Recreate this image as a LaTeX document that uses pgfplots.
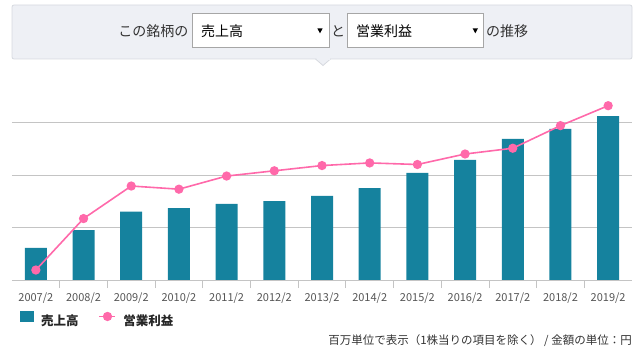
\documentclass[border=0pt]{standalone}
\usepackage{pgfplots}
\pgfplotsset{compat=1.18}
\usepackage{fontspec}
\setmainfont{Noto Sans CJK JP}
\definecolor{barc}{HTML}{15829E}
\definecolor{linec}{HTML}{FF69AA}
\definecolor{hdrfill}{HTML}{EEF0F5}
\definecolor{hdrdraw}{HTML}{D6D9DF}
\definecolor{txt}{HTML}{333333}
\definecolor{tickc}{HTML}{555555}
\definecolor{gridc}{HTML}{C4C4C4}
\begin{document}
\begin{tikzpicture}[x=1pt,y=1pt]
\useasboundingbox (0,0) rectangle (640,351);
% header box
\filldraw[fill=hdrfill, draw=hdrdraw, line width=0.8pt, rounded corners=2pt] (12,292) rectangle (632,346);
\fill[hdrfill] (315.5,292.5) -- (323,285.5) -- (330.5,292.5) -- cycle;
\draw[hdrdraw, line width=0.8pt] (315.5,292) -- (323,285.5) -- (330.5,292);
\fill[hdrfill] (316.5,291) rectangle (329.5,293);
% dropdowns
\filldraw[fill=white, draw=black!35, line width=0.8pt] (192,304) rectangle (329,338);
\filldraw[fill=white, draw=black!35, line width=0.8pt] (347,304) rectangle (483,338);
\fill[black] (317.3,322.7) -- (322.7,322.7) -- (320,317.7) -- cycle;
\fill[black] (472.6,322.7) -- (478,322.7) -- (475.3,317.7) -- cycle;
\begin{scope}[every node/.style={inner sep=0pt, font=\fontsize{14}{16}\selectfont, text=txt}]
\node[anchor=base east] at (188.5,314) {この銘柄の};
\node[anchor=base west, text=black] at (201,314) {売上高};
\node[anchor=base] at (338,314) {と};
\node[anchor=base west, text=black] at (356,314) {営業利益};
\node[anchor=base west] at (486,314) {の推移};
\end{scope}
\begin{axis}[
  at={(12pt,71pt)}, anchor=south west, scale only axis,
  width=620pt, height=210pt,
  xmin=-0.5, xmax=12.5, ymin=0, ymax=400,
  axis line style={draw=none},
  ytick={0,100,200,300}, yticklabels={},
  ymajorgrids, grid style={gridc, line width=0.8pt},
  major tick length=0pt,
  xtick={0,...,12},
  xticklabels={2007/2,2008/2,2009/2,2010/2,2011/2,2012/2,2013/2,2014/2,2015/2,2016/2,2017/2,2018/2,2019/2},
  minor xtick={0.5,1.5,...,11.5},
  minor tick length=8pt, tick align=outside,
  xtick pos=left, ytick pos=left,
  minor tick style={gridc, line width=0.8pt},
  xticklabel style={font=\fontsize{11}{11}\selectfont, text=tickc, anchor=base, yshift=-21pt},
  clip=false,
  legend columns=2,
  legend style={at={(axis description cs:0.0129,-0.193)}, anchor=west, draw=none, fill=none,
    font=\bfseries\fontsize{12.5}{12.5}\selectfont, text=black!85, inner sep=0pt,
    nodes={inner sep=3pt},
    /tikz/every odd column/.append style={column sep=4pt},
    /tikz/every even column/.append style={column sep=17pt}},
]
\addplot[ybar, bar width=22pt, fill=barc, draw=none,
  legend image code/.code={\fill[barc] (0pt,-1pt) rectangle (14pt,10pt);}]
  coordinates {(0,61) (1,95) (2,130) (3,137) (4,145) (5,150) (6,160) (7,175) (8,204) (9,229) (10,269) (11,288) (12,312)};
\addlegendentry{売上高}
\addplot[linec, line width=1.6pt, mark=*, mark size=3.8pt, mark options={fill=linec, draw=linec},
  legend image code/.code={\draw[mark repeat=2,mark phase=2] plot coordinates {(0pt,4.5pt) (8pt,4.5pt) (16pt,4.5pt)};}]
  coordinates {(0,19) (1,117) (2,179) (3,173) (4,198) (5,208) (6,218) (7,223) (8,220) (9,240) (10,251) (11,294) (12,332)};
\addlegendentry{営業利益}
\end{axis}
\node[anchor=base east, inner sep=0pt, font=\fontsize{11.5}{12}\selectfont, text=txt] at (632,7) {百万単位で表示（1株当りの項目を除く） / 金額の単位：円};
\end{tikzpicture}
\end{document}
